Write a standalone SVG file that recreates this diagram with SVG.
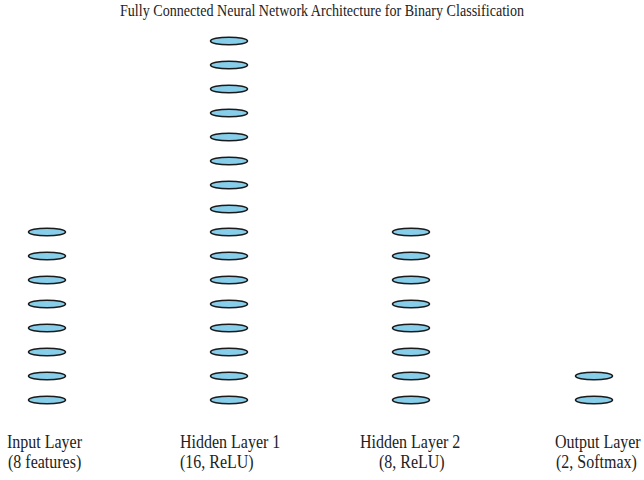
<svg xmlns="http://www.w3.org/2000/svg" width="644" height="480" viewBox="0 0 644 480">
<style>
.n{fill:#87ceeb;stroke:#1a1a1a;stroke-width:1.6}
.t{font-family:"Liberation Serif",serif;font-size:16px;fill:#222}
.ti{font-family:"Liberation Serif",serif;font-size:14.1px;fill:#222}
</style>
<rect width="644" height="480" fill="#fff"/>
<text class="ti" text-anchor="middle" transform="translate(322,15.5) scale(1,1.18)">Fully Connected Neural Network Architecture for Binary Classification</text>
<g id="connectors"></g>
<g id="input-layer">
<ellipse class="n" cx="47" cy="232" rx="18.5" ry="3.8"/>
<ellipse class="n" cx="47" cy="256" rx="18.5" ry="3.8"/>
<ellipse class="n" cx="47" cy="280" rx="18.5" ry="3.8"/>
<ellipse class="n" cx="47" cy="304" rx="18.5" ry="3.8"/>
<ellipse class="n" cx="47" cy="328" rx="18.5" ry="3.8"/>
<ellipse class="n" cx="47" cy="352" rx="18.5" ry="3.8"/>
<ellipse class="n" cx="47" cy="376" rx="18.5" ry="3.8"/>
<ellipse class="n" cx="47" cy="400" rx="18.5" ry="3.8"/>
</g>
<g id="hidden-layer-1">
<ellipse class="n" cx="229" cy="41" rx="18.5" ry="3.8"/>
<ellipse class="n" cx="229" cy="65" rx="18.5" ry="3.8"/>
<ellipse class="n" cx="229" cy="89" rx="18.5" ry="3.8"/>
<ellipse class="n" cx="229" cy="113" rx="18.5" ry="3.8"/>
<ellipse class="n" cx="229" cy="137" rx="18.5" ry="3.8"/>
<ellipse class="n" cx="229" cy="161" rx="18.5" ry="3.8"/>
<ellipse class="n" cx="229" cy="185" rx="18.5" ry="3.8"/>
<ellipse class="n" cx="229" cy="209" rx="18.5" ry="3.8"/>
<ellipse class="n" cx="229" cy="232" rx="18.5" ry="3.8"/>
<ellipse class="n" cx="229" cy="256" rx="18.5" ry="3.8"/>
<ellipse class="n" cx="229" cy="280" rx="18.5" ry="3.8"/>
<ellipse class="n" cx="229" cy="304" rx="18.5" ry="3.8"/>
<ellipse class="n" cx="229" cy="328" rx="18.5" ry="3.8"/>
<ellipse class="n" cx="229" cy="352" rx="18.5" ry="3.8"/>
<ellipse class="n" cx="229" cy="376" rx="18.5" ry="3.8"/>
<ellipse class="n" cx="229" cy="400" rx="18.5" ry="3.8"/>
</g>
<g id="hidden-layer-2">
<ellipse class="n" cx="411" cy="232" rx="18.5" ry="3.8"/>
<ellipse class="n" cx="411" cy="256" rx="18.5" ry="3.8"/>
<ellipse class="n" cx="411" cy="280" rx="18.5" ry="3.8"/>
<ellipse class="n" cx="411" cy="304" rx="18.5" ry="3.8"/>
<ellipse class="n" cx="411" cy="328" rx="18.5" ry="3.8"/>
<ellipse class="n" cx="411" cy="352" rx="18.5" ry="3.8"/>
<ellipse class="n" cx="411" cy="376" rx="18.5" ry="3.8"/>
<ellipse class="n" cx="411" cy="400" rx="18.5" ry="3.8"/>
</g>
<g id="output-layer">
<ellipse class="n" cx="594" cy="376" rx="18.5" ry="3.8"/>
<ellipse class="n" cx="594" cy="400" rx="18.5" ry="3.8"/>
</g>
<g id="labels">
<text class="t" transform="translate(7,448) scale(1,1.22)">Input Layer</text>
<text class="t" transform="translate(8,468) scale(1,1.22)">(8 features)</text>
<text class="t" transform="translate(180,448) scale(1,1.22)">Hidden Layer 1</text>
<text class="t" transform="translate(180,468) scale(1,1.22)">(16, ReLU)</text>
<text class="t" transform="translate(360,448) scale(1,1.22)">Hidden Layer 2</text>
<text class="t" transform="translate(379,468) scale(1,1.22)">(8, ReLU)</text>
<text class="t" transform="translate(555,448) scale(1,1.22)">Output Layer</text>
<text class="t" transform="translate(556,468) scale(1,1.22)">(2, Softmax)</text>
</g>
</svg>
